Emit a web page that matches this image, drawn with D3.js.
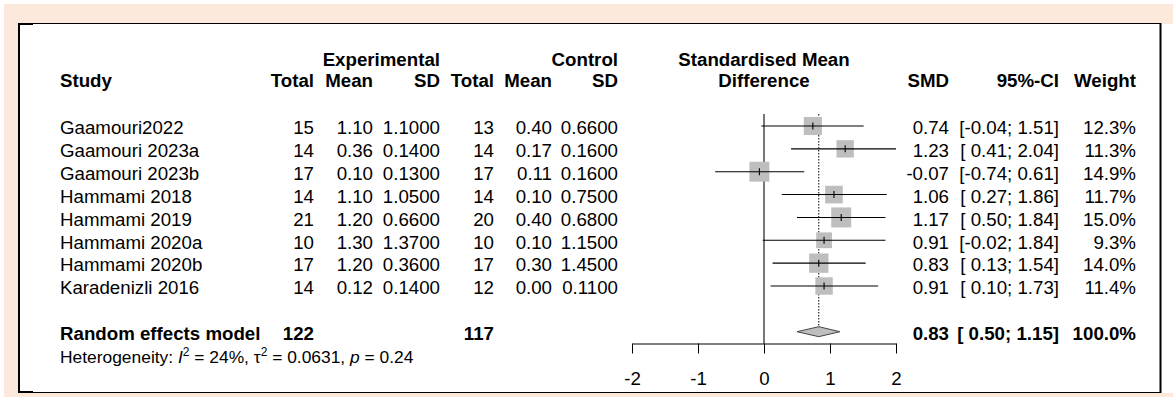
<!DOCTYPE html>
<html>
<head>
<meta charset="utf-8">
<script src="https://cdn.jsdelivr.net/npm/d3@7"></script>
<style>
  html, body { margin: 0; padding: 0; background: #ffffff; }
  svg { display: block; }
  text { font-family: "Liberation Sans", Arial, sans-serif; fill: #000; white-space: pre; }
</style>
</head>
<body>
<svg id="chart" width="1173" height="397"></svg>
<script>
// ---------------- data ----------------
const studies   = ["Gaamouri2022", "Gaamouri 2023a", "Gaamouri 2023b", "Hammami 2018",
                   "Hammami 2019", "Hammami 2020a", "Hammami 2020b", "Karadenizli 2016"];
const expTotal  = [15, 14, 17, 14, 21, 10, 17, 14];
const expMean   = [1.10, 0.36, 0.10, 1.10, 1.20, 1.30, 1.20, 0.12];
const expSD     = [1.1000, 0.1400, 0.1300, 1.0500, 0.6600, 1.3700, 0.3600, 0.1400];
const ctrlTotal = [13, 14, 17, 14, 20, 10, 17, 12];
const ctrlMean  = [0.40, 0.17, 0.11, 0.10, 0.40, 0.10, 0.30, 0.00];
const ctrlSD    = [0.6600, 0.1600, 0.1600, 0.7500, 0.6800, 1.1500, 1.4500, 0.1100];
const smd       = [0.74, 1.23, -0.07, 1.06, 1.17, 0.91, 0.83, 0.91];
const ciLower   = [-0.04, 0.41, -0.74, 0.27, 0.50, -0.02, 0.13, 0.10];
const ciUpper   = [1.51, 2.04, 0.61, 1.86, 1.84, 1.84, 1.54, 1.73];
const weights   = [12.3, 11.3, 14.9, 11.7, 15.0, 9.3, 14.0, 11.4];

const summaryLabel = "Random effects model";
const summaryExpTotal = 122;
const summaryCtrlTotal = 117;
const summarySMD = 0.83;
const summaryLower = 0.50;
const summaryUpper = 1.15;
const summaryWeight = 100.0;

const hetI2 = 24;
const hetTau2 = 0.0631;
const hetP = 0.24;

const xTicks = [-2, -1, 0, 1, 2];

// ---------------- layout ----------------
const svg = d3.select("#chart");
const W = 1173, H = 397;
const FS = 18.7;
const peach = "#fce9db";

// frame
svg.append("rect").attr("x", 4).attr("y", 4).attr("width", W - 4).attr("height", H - 4).attr("fill", peach);
svg.append("rect").attr("x", 19).attr("y", 23.5).attr("width", 1141).attr("height", 369).attr("fill", "#fff");
svg.append("rect").attr("x", 1161).attr("y", 24).attr("width", W - 1161).attr("height", 369).attr("fill", "#fff");
const frame = svg.append("g").attr("stroke", "#000").attr("fill", "none");
frame.append("line").attr("x1", 18).attr("x2", 1161).attr("y1", 23.5).attr("y2", 23.5).attr("stroke-width", 1);
frame.append("line").attr("x1", 18).attr("x2", 1161).attr("y1", 392.5).attr("y2", 392.5).attr("stroke-width", 1);
frame.append("line").attr("x1", 19).attr("x2", 19).attr("y1", 23).attr("y2", 393).attr("stroke-width", 2);
frame.append("line").attr("x1", 1160.5).attr("x2", 1160.5).attr("y1", 23).attr("y2", 393).attr("stroke-width", 2);
frame.append("line").attr("x1", 18).attr("x2", 33).attr("y1", 24).attr("y2", 24).attr("stroke-width", 2);
frame.append("line").attr("x1", 18).attr("x2", 33).attr("y1", 392).attr("y2", 392).attr("stroke-width", 2);

// scales
const x = d3.scaleLinear().domain([-2, 2]).range([632, 896]);
const y = d3.scalePoint().domain(studies).range([126, 286]);
const ySummary = 331.7;
const boxSize = d3.scaleSqrt().domain([0, 15]).range([0, 20]);
const textOff = 8.3;

const f2 = d3.format(".2f");
const f4 = d3.format(".4f");
const f1 = d3.format(".1f");
const num = v => f2(v).replace("−", "-");
const ci = (lo, hi) => "[" + (lo < 0 ? num(lo) : " " + num(lo)) + "; " + num(hi) + "]";

// columns (right edges)
const col = { study: 60, eT: 314, eM: 373, eS: 440, cT: 494, cM: 552, cS: 618, smd: 949, ci: 1059, w: 1136 };

// ---------------- header ----------------
const hdr = svg.append("g").attr("font-weight", "bold").attr("font-size", FS);
const h1 = 65.5, h2 = 86.5;
hdr.append("text").attr("x", col.eS).attr("y", h1).attr("text-anchor", "end").text("Experimental");
hdr.append("text").attr("x", col.cS).attr("y", h1).attr("text-anchor", "end").text("Control");
hdr.append("text").attr("x", x(0)).attr("y", h1).attr("text-anchor", "middle").text("Standardised Mean");
hdr.append("text").attr("x", col.study).attr("y", h2).text("Study");
[["Total", col.eT], ["Mean", col.eM], ["SD", col.eS], ["Total", col.cT], ["Mean", col.cM], ["SD", col.cS],
 ["SMD", col.smd], ["95%-CI", col.ci], ["Weight", col.w]].forEach(([t, cx]) => {
  hdr.append("text").attr("x", cx).attr("y", h2).attr("text-anchor", "end").text(t);
});
hdr.append("text").attr("x", x(0)).attr("y", h2).attr("text-anchor", "middle").text("Difference");

// ---------------- study rows ----------------
const rows = svg.append("g").attr("font-size", FS);
studies.forEach((s, i) => {
  const ty = y(s) + textOff;
  rows.append("text").attr("x", col.study).attr("y", ty).text(s);
  const cells = [
    [String(expTotal[i]), col.eT], [num(expMean[i]), col.eM], [f4(expSD[i]), col.eS],
    [String(ctrlTotal[i]), col.cT], [num(ctrlMean[i]), col.cM], [f4(ctrlSD[i]), col.cS],
    [num(smd[i]), col.smd], [ci(ciLower[i], ciUpper[i]), col.ci], [f1(weights[i]) + "%", col.w]
  ];
  cells.forEach(([t, cx]) => rows.append("text").attr("x", cx).attr("y", ty).attr("text-anchor", "end").text(t));
});

// ---------------- summary row ----------------
const sumG = svg.append("g").attr("font-size", FS).attr("font-weight", "bold");
const sy = ySummary + textOff;
sumG.append("text").attr("x", col.study).attr("y", sy).text(summaryLabel);
sumG.append("text").attr("x", col.eT).attr("y", sy).attr("text-anchor", "end").text(summaryExpTotal);
sumG.append("text").attr("x", col.cT).attr("y", sy).attr("text-anchor", "end").text(summaryCtrlTotal);
sumG.append("text").attr("x", col.smd).attr("y", sy).attr("text-anchor", "end").text(num(summarySMD));
sumG.append("text").attr("x", col.ci).attr("y", sy).attr("text-anchor", "end").text(ci(summaryLower, summaryUpper));
sumG.append("text").attr("x", col.w).attr("y", sy).attr("text-anchor", "end").text(f1(summaryWeight) + "%");

// heterogeneity
const het = svg.append("text").attr("x", col.study).attr("y", 362.7).attr("font-size", 17.4);
het.append("tspan").text("Heterogeneity: ");
het.append("tspan").attr("font-style", "italic").text("I");
het.append("tspan").attr("font-size", 12).attr("dy", -7).text("2");
het.append("tspan").attr("dy", 7).text(" = " + hetI2 + "%, \u03C4");
het.append("tspan").attr("font-size", 12).attr("dy", -7).text("2");
het.append("tspan").attr("dy", 7).text(" = " + d3.format(".4f")(hetTau2) + ", ");
het.append("tspan").attr("font-style", "italic").text("p");
het.append("tspan").text(" = " + f2(hetP));

// ---------------- forest plot ----------------
const plot = svg.append("g");
const yTop = 114, yAxis = 343.5;

// zero line
plot.append("line").attr("x1", x(0)).attr("x2", x(0)).attr("y1", yTop).attr("y2", yAxis)
  .attr("stroke", "#555").attr("stroke-width", 1.6);

// summary dotted line
plot.append("line").attr("x1", x(summarySMD)).attr("x2", x(summarySMD)).attr("y1", yTop).attr("y2", ySummary - 5)
  .attr("stroke", "#000").attr("stroke-width", 1).attr("stroke-dasharray", "1.5,1.5");

// boxes
studies.forEach((s, i) => {
  const cy = y(s), cx = x(smd[i]);
  const sz = boxSize(weights[i]);
  plot.append("rect").attr("x", cx - sz / 2).attr("y", cy - sz / 2).attr("width", sz).attr("height", sz)
    .attr("fill", "#bebebe");
});
// CI lines and point ticks
studies.forEach((s, i) => {
  const cy = y(s), cx = x(smd[i]);
  plot.append("line").attr("x1", x(Math.max(-2, ciLower[i]))).attr("x2", x(Math.min(2, ciUpper[i])))
    .attr("y1", cy).attr("y2", cy).attr("stroke", "#000").attr("stroke-width", 1.1);
  plot.append("line").attr("x1", cx).attr("x2", cx).attr("y1", cy - 3.5).attr("y2", cy + 3.5)
    .attr("stroke", "#000").attr("stroke-width", 1.1);
});

// diamond
const dh = 5;
plot.append("path")
  .attr("d", `M${x(summaryLower)},${ySummary} L${x(summarySMD)},${ySummary - dh} L${x(summaryUpper)},${ySummary} L${x(summarySMD)},${ySummary + dh} Z`)
  .attr("fill", "#bebebe").attr("stroke", "#444").attr("stroke-width", 1);

// axis
const axis = d3.axisBottom(x).tickValues(xTicks).tickFormat(d => String(d))
  .tickSize(10).tickSizeOuter(0).tickPadding(18);
const ax = svg.append("g").attr("transform", `translate(0,${yAxis})`).call(axis);
ax.select(".domain").attr("stroke", "#000");
ax.selectAll(".tick line").attr("stroke", "#000");
ax.selectAll(".tick text").attr("font-size", FS).attr("font-family", "Liberation Sans, Arial, sans-serif").attr("fill", "#000");
</script>
</body>
</html>
